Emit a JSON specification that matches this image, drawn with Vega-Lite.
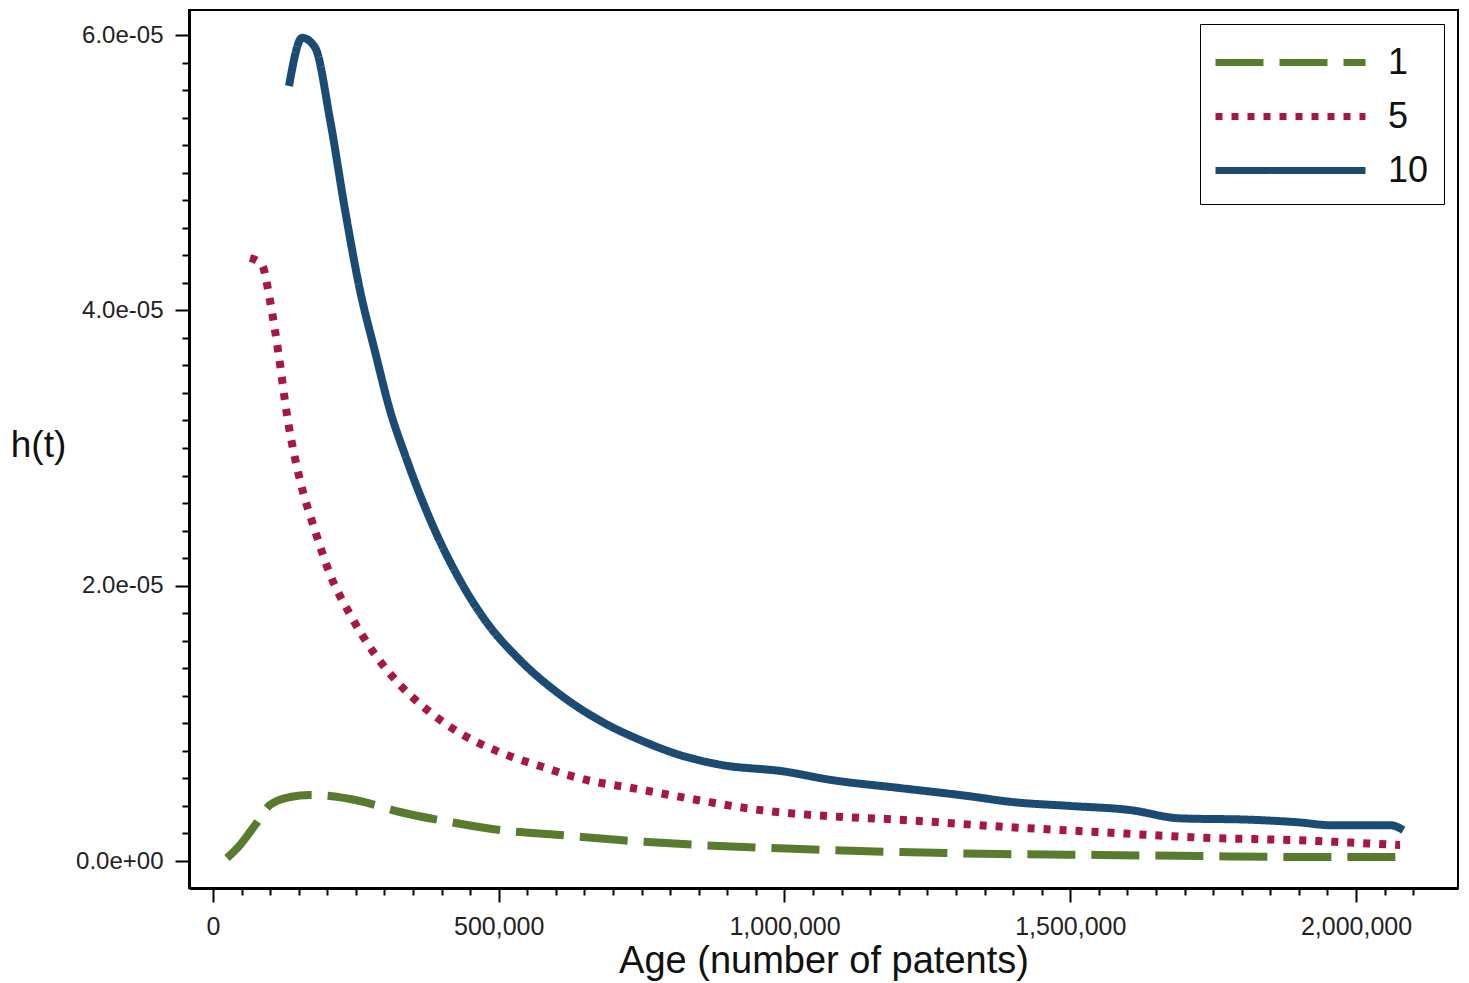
{
  "$schema": "https://vega.github.io/schema/vega-lite/v6.json",
  "width": 1269,
  "height": 878,
  "autosize": {"type": "none"},
  "padding": {"left": 189, "top": 10, "right": 11, "bottom": 95},
  "background": "white",
  "config": {
    "font": "Liberation Sans",
    "view": {"stroke": "black", "strokeWidth": 2}
  },
  "data": {
    "values": [
      {"group": "1", "age": 24500, "h": 2.2e-7},
      {"group": "1", "age": 47250, "h": 1.16e-6},
      {"group": "1", "age": 73500, "h": 2.6e-6},
      {"group": "1", "age": 99750, "h": 4.07e-6},
      {"group": "1", "age": 134750, "h": 4.65e-6},
      {"group": "1", "age": 169750, "h": 4.8e-6},
      {"group": "1", "age": 205000, "h": 4.72e-6},
      {"group": "1", "age": 257000, "h": 4.36e-6},
      {"group": "1", "age": 327000, "h": 3.56e-6},
      {"group": "1", "age": 415000, "h": 2.83e-6},
      {"group": "1", "age": 502000, "h": 2.25e-6},
      {"group": "1", "age": 607000, "h": 1.89e-6},
      {"group": "1", "age": 712000, "h": 1.52e-6},
      {"group": "1", "age": 852000, "h": 1.16e-6},
      {"group": "1", "age": 1027000, "h": 8.7e-7},
      {"group": "1", "age": 1202000, "h": 6.5e-7},
      {"group": "1", "age": 1377000, "h": 5.1e-7},
      {"group": "1", "age": 1552000, "h": 4.4e-7},
      {"group": "1", "age": 1727000, "h": 3.6e-7},
      {"group": "1", "age": 1902000, "h": 2.9e-7},
      {"group": "1", "age": 2095000, "h": 2.9e-7},
      {"group": "5", "age": 64750, "h": 4.38e-5},
      {"group": "5", "age": 85750, "h": 4.33e-5},
      {"group": "5", "age": 99750, "h": 4.07e-5},
      {"group": "5", "age": 113750, "h": 3.71e-5},
      {"group": "5", "age": 131000, "h": 3.2e-5},
      {"group": "5", "age": 152000, "h": 2.77e-5},
      {"group": "5", "age": 178500, "h": 2.4e-5},
      {"group": "5", "age": 205000, "h": 2.08e-5},
      {"group": "5", "age": 240000, "h": 1.79e-5},
      {"group": "5", "age": 283500, "h": 1.5e-5},
      {"group": "5", "age": 327000, "h": 1.28e-5},
      {"group": "5", "age": 380000, "h": 1.08e-5},
      {"group": "5", "age": 432000, "h": 9.3e-6},
      {"group": "5", "age": 502000, "h": 7.9e-6},
      {"group": "5", "age": 572000, "h": 6.9e-6},
      {"group": "5", "age": 642000, "h": 6.0e-6},
      {"group": "5", "age": 747000, "h": 5.2e-6},
      {"group": "5", "age": 852000, "h": 4.4e-6},
      {"group": "5", "age": 957000, "h": 3.7e-6},
      {"group": "5", "age": 1062000, "h": 3.3e-6},
      {"group": "5", "age": 1202000, "h": 3.0e-6},
      {"group": "5", "age": 1377000, "h": 2.5e-6},
      {"group": "5", "age": 1552000, "h": 2.1e-6},
      {"group": "5", "age": 1727000, "h": 1.7e-6},
      {"group": "5", "age": 1902000, "h": 1.5e-6},
      {"group": "5", "age": 2077000, "h": 1.16e-6},
      {"group": "10", "age": 133000, "h": 5.63e-5},
      {"group": "10", "age": 156000, "h": 5.98e-5},
      {"group": "10", "age": 178500, "h": 5.91e-5},
      {"group": "10", "age": 205000, "h": 5.38e-5},
      {"group": "10", "age": 231000, "h": 4.73e-5},
      {"group": "10", "age": 257000, "h": 4.15e-5},
      {"group": "10", "age": 283500, "h": 3.7e-5},
      {"group": "10", "age": 310000, "h": 3.27e-5},
      {"group": "10", "age": 336000, "h": 2.95e-5},
      {"group": "10", "age": 380000, "h": 2.48e-5},
      {"group": "10", "age": 432000, "h": 2.04e-5},
      {"group": "10", "age": 476000, "h": 1.75e-5},
      {"group": "10", "age": 537000, "h": 1.46e-5},
      {"group": "10", "age": 607000, "h": 1.21e-5},
      {"group": "10", "age": 677000, "h": 1.02e-5},
      {"group": "10", "age": 747000, "h": 8.8e-6},
      {"group": "10", "age": 817000, "h": 7.7e-6},
      {"group": "10", "age": 887000, "h": 7.0e-6},
      {"group": "10", "age": 1000000, "h": 6.5e-6},
      {"group": "10", "age": 1080000, "h": 5.9e-6},
      {"group": "10", "age": 1202000, "h": 5.3e-6},
      {"group": "10", "age": 1325000, "h": 4.7e-6},
      {"group": "10", "age": 1395000, "h": 4.3e-6},
      {"group": "10", "age": 1500000, "h": 4.0e-6},
      {"group": "10", "age": 1605000, "h": 3.7e-6},
      {"group": "10", "age": 1692000, "h": 3.1e-6},
      {"group": "10", "age": 1815000, "h": 3.0e-6},
      {"group": "10", "age": 1902000, "h": 2.8e-6},
      {"group": "10", "age": 1955000, "h": 2.6e-6},
      {"group": "10", "age": 2060000, "h": 2.6e-6},
      {"group": "10", "age": 2083000, "h": 2.25e-6}
    ]
  },
  "mark": {"type": "line", "strokeWidth": 8, "strokeCap": "butt", "strokeJoin": "round", "interpolate": "monotone"},
  "encoding": {
    "x": {
      "field": "age",
      "type": "quantitative",
      "scale": {"domain": [-42000, 2178500], "nice": false, "zero": false},
      "axis": {
        "title": "Age (number of patents)",
        "titleFontSize": 38,
        "titleFontWeight": "normal",
        "titleColor": "#111",
        "titleBaseline": "alphabetic",
        "titleY": 84,
        "values": [0, 50000, 100000, 150000, 200000, 250000, 300000, 350000, 400000, 450000, 500000, 550000, 600000, 650000, 700000, 750000, 800000, 850000, 900000, 950000, 1000000, 1050000, 1100000, 1150000, 1200000, 1250000, 1300000, 1350000, 1400000, 1450000, 1500000, 1550000, 1600000, 1650000, 1700000, 1750000, 1800000, 1850000, 1900000, 1950000, 2000000, 2050000, 2100000],
        "labelExpr": "datum.value % 500000 === 0 ? format(datum.value, ',') : ''",
        "labelOverlap": false,
        "labelFlush": false,
        "labelFontSize": 25,
        "labelColor": "#222",
        "labelPadding": 12,
        "tickSize": {"condition": {"test": "datum.value % 500000 === 0", "value": 14}, "value": 7},
        "tickColor": "black",
        "tickWidth": 2,
        "domainColor": "black",
        "domainWidth": 3,
        "grid": false
      }
    },
    "y": {
      "field": "h",
      "type": "quantitative",
      "scale": {"domain": [-1.96e-6, 6.1816e-5], "nice": false, "zero": false},
      "axis": {
        "title": "h(t)",
        "titleAngle": 0,
        "titleFontSize": 37,
        "titleFontWeight": "normal",
        "titleColor": "#111",
        "titleAlign": "center",
        "titleBaseline": "middle",
        "titleX": -151,
        "titleY": 435,
        "values": [0, 2e-6, 4e-6, 6e-6, 8e-6, 1e-5, 1.2e-5, 1.4e-5, 1.6e-5, 1.8e-5, 2e-5, 2.2e-5, 2.4e-5, 2.6e-5, 2.8e-5, 3e-5, 3.2e-5, 3.4e-5, 3.6e-5, 3.8e-5, 4e-5, 4.2e-5, 4.4e-5, 4.6e-5, 4.8e-5, 5e-5, 5.2e-5, 5.4e-5, 5.6e-5, 5.8e-5, 6e-5],
        "labelExpr": "abs(datum.value*5e4 - round(datum.value*5e4)) < 1e-6 ? (datum.value == 0 ? '0.0e+00' : format(datum.value*1e5, '.1f') + 'e-05') : ''",
        "labelOverlap": false,
        "labelFlush": false,
        "labelFontSize": 24,
        "labelColor": "#222",
        "labelPadding": 12,
        "tickSize": {"condition": {"test": "abs(datum.value*5e4 - round(datum.value*5e4)) < 1e-6", "value": 14}, "value": 7},
        "tickColor": "black",
        "tickWidth": 2,
        "domainColor": "black",
        "domainWidth": 3,
        "grid": false
      }
    },
    "color": {
      "field": "group",
      "type": "nominal",
      "scale": {"domain": ["1", "5", "10"], "range": ["#5a7b2e", "#a8173f", "#1b4a73"]},
      "legend": {
        "title": null,
        "orient": "none",
        "legendX": 1011,
        "legendY": 14,
        "symbolType": "M-3.75,0H3.75",
        "symbolSize": 1600,
        "symbolOffset": 52,
        "symbolStrokeWidth": 7,
        "labelFontSize": 36,
        "labelColor": "#111",
        "labelOffset": 74,
        "rowPadding": 12,
        "padding": 15,
        "strokeColor": "black",
        "fillColor": "white",
        "cornerRadius": 0
      }
    },
    "strokeDash": {
      "field": "group",
      "type": "nominal",
      "scale": {"domain": ["1", "5", "10"], "range": [[48, 16], [7, 9], [1, 0]]},
      "legend": {
        "title": null,
        "orient": "none",
        "legendX": 1011,
        "legendY": 14,
        "symbolType": "M-3.75,0H3.75",
        "symbolSize": 1600,
        "symbolOffset": 52,
        "symbolStrokeWidth": 7,
        "labelFontSize": 36,
        "labelColor": "#111",
        "labelOffset": 74,
        "rowPadding": 12,
        "padding": 15,
        "strokeColor": "black",
        "fillColor": "white",
        "cornerRadius": 0
      }
    }
  }
}
